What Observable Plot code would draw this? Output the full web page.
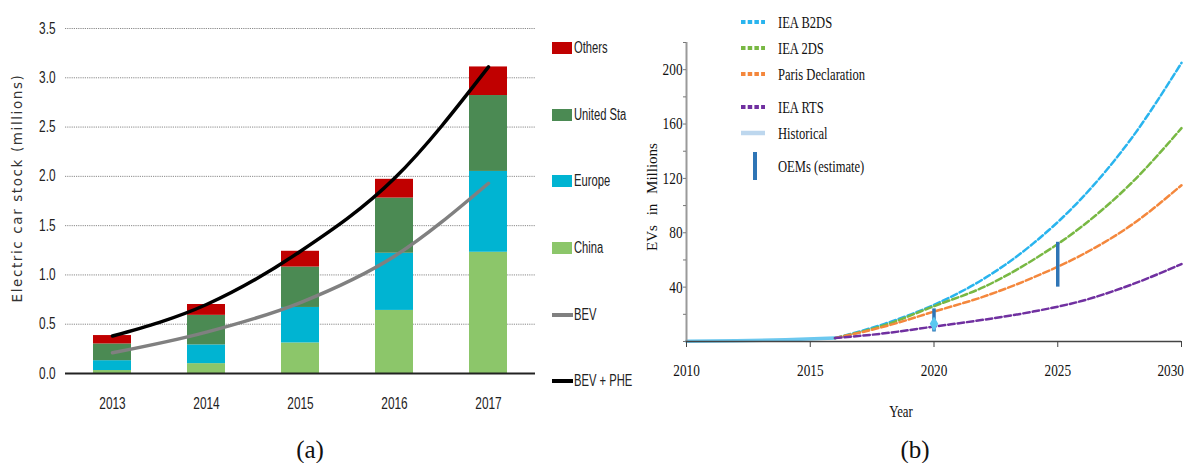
<!DOCTYPE html>
<html><head><meta charset="utf-8">
<script src="https://cdn.jsdelivr.net/npm/d3@7"></script>
<script src="https://cdn.jsdelivr.net/npm/@observablehq/plot@0.6"></script>
<style>
body{margin:0;background:#fff}
#root{position:relative;width:1192px;height:463px;overflow:hidden;background:#fff}
#root svg{position:absolute}
.abs{position:absolute;white-space:nowrap;line-height:1}
</style></head>
<body><div id="root"></div>
<script>
// ---------- Panel (a) data ----------
const years = ["2013","2014","2015","2016","2017"];
const regions = ["China","Europe","United States","Others"];
const china  = [0.03, 0.10, 0.31, 0.64, 1.23];
const europe = [0.10, 0.19, 0.36, 0.58, 0.82];
const us     = [0.17, 0.30, 0.41, 0.56, 0.77];
const others = [0.085,0.11, 0.16, 0.19, 0.29];
const bev    = [0.21, 0.42, 0.72, 1.19, 1.93];
const total  = [0.38, 0.70, 1.24, 1.98, 3.11];
const yTicksA = [0,0.5,1,1.5,2,2.5,3,3.5];
const regionColors = ["#8cc66a","#00b4d2","#4b8a53","#c00000"];
const legendALabels = ["Others","United Sta","Europe","China","BEV","BEV + PHE"];

// ---------- Panel (b) data ----------
const histYears = [2010, 2012, 2014, 2016];
const histValues = [0.2, 0.5, 1.2, 2.5];
const scenYears = [2016, 2018, 2020, 2022, 2024, 2026, 2028, 2030];
const scenarios = ["IEA B2DS","IEA 2DS","Paris Declaration","IEA RTS"];
const b2ds  = [2.5, 13, 27, 46, 72, 106, 150, 205];
const twods = [2.5, 12, 26, 40, 60, 85, 117, 157];
const paris = [2.5, 11, 22, 33, 47, 64, 86, 115];
const rts   = [2.5, 6, 11, 16, 22, 30, 42, 57];
const scenColors = ["#29b4ee","#78b843","#f4873c","#7030a0"];
const oemYears = [2020, 2025];
const oemLow  = [7, 40];
const oemHigh = [24, 73];
const markerYears = [2020];
const markerValues = [13];
const yTicksB = [0,20,40,60,80,100,120,140,160,180,200,220];
const xTicksB = [2010,2015,2020,2025,2030];
const legendBLabels = ["IEA B2DS","IEA 2DS","Paris Declaration","IEA RTS","Historical","OEMs (estimate)"];

const root = document.getElementById("root");
function addDiv(html, x, y, css){
  const d = document.createElement("div");
  d.className = "abs";
  d.textContent = html;
  d.style.cssText += `left:${x}px;top:${y}px;` + css;
  root.appendChild(d);
  return d;
}
function squeeze(svg, k){
  svg.querySelectorAll("text").forEach(t=>{
    const L = t.getComputedTextLength();
    if (L > 0) { t.setAttribute("textLength", (L*k).toFixed(2)); t.setAttribute("lengthAdjust","spacingAndGlyphs"); }
  });
}

// ---------- Panel (a) ----------
const rowsA = [];
const vals = [china, europe, us, others];
regions.forEach((r,i)=> years.forEach((y,j)=> rowsA.push({year:y, region:r, value:vals[i][j]})));
const lineRows = years.map((y,j)=>({year:y, bev:bev[j], total:total[j]}));

const plotA = Plot.plot({
  width: 630, height: 463,
  marginLeft: 65, marginRight: 95, marginTop: 28, marginBottom: 90,
  style: {fontFamily: "'Liberation Sans',Arial,sans-serif", fontSize: "16px", color: "#222", background: "transparent", overflow:"visible"},
  x: {domain: years, paddingInner: 0.6, paddingOuter: 0.3, label: null},
  y: {domain: [0, 3.5], label: null},
  color: {domain: regions, range: regionColors},
  marks: [
    Plot.gridY(yTicksA.filter(d=>d>0), {stroke:"#8a8a8a", strokeOpacity:1, strokeDasharray:"1.2,1"}),
    Plot.barY(rowsA, {x:"year", y:"value", fill:"region", order: regions}),
    Plot.ruleY([0], {stroke:"#222", strokeWidth:2}),
    Plot.line(lineRows, {x:"year", y:"bev", stroke:"#808080", strokeWidth:3.5, curve:"monotone-x"}),
    Plot.line(lineRows, {x:"year", y:"total", stroke:"#000", strokeWidth:3.5, curve:"monotone-x"}),
    Plot.axisY(yTicksA, {tickFormat: d=>d.toFixed(1), tickSize:0, tickPadding:10, label:null}),
    Plot.axisX({tickSize:0, tickPadding:24, label:null})
  ]
});
plotA.style.left = "0px"; plotA.style.top = "0px";
root.appendChild(plotA);
squeeze(plotA, 0.74);

// legend (a)
const legAY = [48,115,181,248,315,381];
const legASw = [{fill:"#c00000"},{fill:"#4b8a53"},{fill:"#00b4d2"},{fill:"#8cc66a"},{line:"#808080"},{line:"#000"}];
legendALabels.forEach((lab,i)=>{
  const sw = document.createElement("div");
  sw.className="abs";
  const s = legASw[i];
  if (s.fill) sw.style.cssText += `left:552px;top:${legAY[i]-6}px;width:20px;height:12px;background:${s.fill};`;
  else sw.style.cssText += `left:552px;top:${legAY[i]-2}px;width:21px;height:4px;background:${s.line};`;
  root.appendChild(sw);
  addDiv(lab, 574, legAY[i], "transform:translate(0,-50%) scaleX(0.7);transform-origin:left center;font-family:'Liberation Sans',Arial,sans-serif;font-size:16px;color:#222;");
});
addDiv("Electric car stock (millions)", 18, 188, "transform:translate(-50%,-50%) rotate(-90deg);font-family:'DejaVu Sans',sans-serif;font-size:13.5px;letter-spacing:1.6px;color:#333;");
addDiv("(a)", 310, 449, "transform:translate(-50%,-50%);font-family:'Liberation Serif','Times New Roman',serif;font-size:25px;color:#111;");

// ---------- Panel (b) ----------
const histRows = histYears.map((y,i)=>({year:y, value:histValues[i]}));
const scenVals = [b2ds, twods, paris, rts];
const scenRows = [];
scenarios.forEach((s,i)=> scenYears.forEach((y,j)=> scenRows.push({scenario:s, year:y, value:scenVals[i][j]})));
const oemRows = oemYears.map((y,i)=>({year:y, low:oemLow[i], high:oemHigh[i]}));
const markerRows = markerYears.map((y,i)=>({year:y, value:markerValues[i]}));

const plotB = Plot.plot({
  width: 562, height: 463,
  marginLeft: 56, marginRight: 11, marginTop: 42, marginBottom: 122,
  style: {fontFamily: "'Liberation Serif','Times New Roman',serif", fontSize: "17px", color: "#111", background: "transparent", overflow:"visible"},
  x: {domain: [2010, 2030], label: null},
  y: {domain: [0, 220], label: null},
  color: {domain: scenarios, range: scenColors},
  marks: [
    Plot.line(histRows, {x:"year", y:"value", stroke:"#6cc8ef", strokeWidth:3.5}),
    Plot.line(scenRows, {x:"year", y:"value", z:"scenario", stroke:"scenario", strokeWidth:2.5, strokeDasharray:"6.5,3", curve:"monotone-x"}),
    Plot.ruleX(oemRows, {x:"year", y1:"low", y2:"high", stroke:"#2e75b6", strokeWidth:3.5}),
    Plot.dot(markerRows, {x:"year", y:"value", symbol:"diamond", fill:"#5bc8f0", r:4.5}),
    Plot.ruleX([2010], {stroke:"#9a9a9a", strokeWidth:2}),
    Plot.ruleY([0], {stroke:"#444", strokeWidth:1.5}),
    Plot.axisY(yTicksB, {tickSize:3, tickPadding:1, stroke:"#777", tickFormat: d => (d>0 && d%40===0 && d<=200) ? String(d) : "", label:null}),
    Plot.axisX(xTicksB, {tickSize:6, tickPadding:16, stroke:"#444", tickFormat: d => String(d), label:null})
  ]
});
plotB.style.left = "630px"; plotB.style.top = "0px";
root.appendChild(plotB);
squeeze(plotB, 0.78);
plotB.querySelectorAll("text").forEach(t=>{
  const bb = t.getBoundingClientRect();
  if (bb.width > 0 && bb.right > 1184) t.setAttribute("dx", (1184 - bb.right).toFixed(1));
});

// legend (b)
const legBY = [22,48,74,107,133,166];
const legBSw = [
  {dash:"#29b4ee"},{dash:"#78b843"},{dash:"#f4873c"},{dash:"#7030a0"},{solid:"#bdd7ee"},{vbar:"#2e75b6"}
];
legendBLabels.forEach((lab,i)=>{
  const s = legBSw[i];
  const ns = "http://www.w3.org/2000/svg";
  const svg = document.createElementNS(ns,"svg");
  svg.setAttribute("width", 30); svg.setAttribute("height", 32);
  svg.style.left = "738px"; svg.style.top = (legBY[i]-16)+"px";
  const ln = document.createElementNS(ns,"line");
  if (s.vbar) {
    ln.setAttribute("x1",17); ln.setAttribute("x2",17); ln.setAttribute("y1",2); ln.setAttribute("y2",30);
    ln.setAttribute("stroke", s.vbar); ln.setAttribute("stroke-width", 4);
  } else {
    ln.setAttribute("x1",3); ln.setAttribute("x2",27); ln.setAttribute("y1",16); ln.setAttribute("y2",16);
    ln.setAttribute("stroke", s.dash || s.solid); ln.setAttribute("stroke-width", s.dash ? 4 : 4.5);
    if (s.dash) ln.setAttribute("stroke-dasharray","4.5,2.2");
  }
  svg.appendChild(ln);
  root.appendChild(svg);
  addDiv(lab, 778, legBY[i], "transform:translate(0,-50%) scaleX(0.74);transform-origin:left center;font-family:'Liberation Serif','Times New Roman',serif;font-size:17px;color:#111;");
});
addDiv("EVs  in  Millions", 652, 197, "transform:translate(-50%,-50%) rotate(-90deg);font-family:'Liberation Serif','Times New Roman',serif;font-size:15px;word-spacing:6px;color:#111;");
addDiv("Year", 901, 412, "transform:translate(-50%,-50%) scaleX(0.8);font-family:'Liberation Serif','Times New Roman',serif;font-size:16px;color:#111;");
addDiv("(b)", 915, 449, "transform:translate(-50%,-50%);font-family:'Liberation Serif','Times New Roman',serif;font-size:25px;color:#111;");
</script>
</body></html>
